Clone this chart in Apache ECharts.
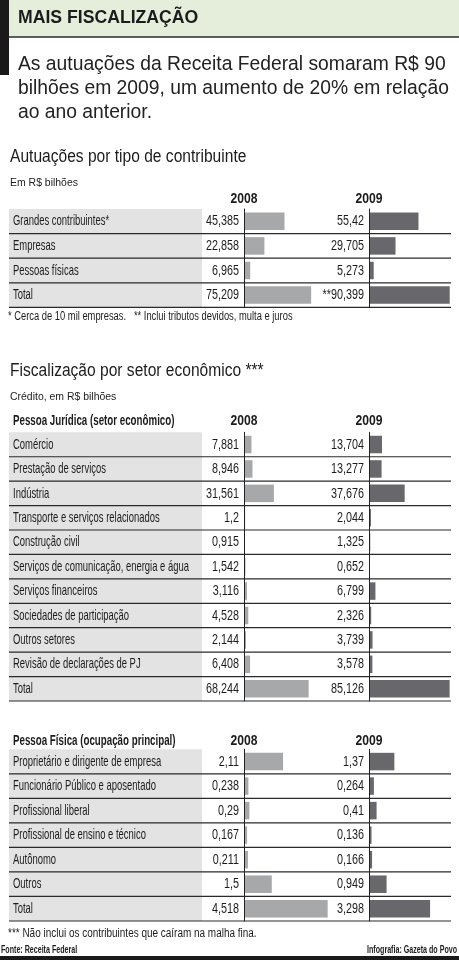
<!DOCTYPE html>
<html><head><meta charset="utf-8">
<script src="https://cdn.jsdelivr.net/npm/echarts@6/dist/echarts.min.js"></script>
<style>html,body{margin:0;padding:0;background:#fff}#c{width:459px;height:960px}</style>
</head><body><div id="c"></div>
<script>
// ---------- DATA ----------
const years = ['2008', '2009'];

const tipoCategories = ['Grandes contribuintes*', 'Empresas', 'Pessoas físicas', 'Total'];
const tipo2008 = [45.385, 22.858, 6.965, 75.209];
const tipo2009 = [55.42, 29.705, 5.273, 90.399];
const tipo2009Prefix = ['', '', '', '**'];

const setorCategories = ['Comércio', 'Prestação de serviços', 'Indústria', 'Transporte e serviços relacionados',
  'Construção civil', 'Serviços de comunicação, energia e água', 'Serviços financeiros',
  'Sociedades de participação', 'Outros setores', 'Revisão de declarações de PJ', 'Total'];
const setor2008 = [7.881, 8.946, 31.561, 1.2, 0.915, 1.542, 3.116, 4.528, 2.144, 6.408, 68.244];
const setor2009 = [13.704, 13.277, 37.676, 2.044, 1.325, 0.652, 6.799, 2.326, 3.739, 3.578, 85.126];

const ocupCategories = ['Proprietário e dirigente de empresa', 'Funcionário Público e aposentado',
  'Profissional liberal', 'Profissional de ensino e técnico', 'Autônomo', 'Outros', 'Total'];
const ocup2008 = [2.11, 0.238, 0.29, 0.167, 0.211, 1.5, 4.518];
const ocup2009 = [1.37, 0.264, 0.41, 0.136, 0.166, 0.949, 3.298];

// ---------- TEXTS ----------
const mainTitle = 'MAIS FISCALIZAÇÃO';
const introLines = ['As autuações da Receita Federal somaram R$ 90',
  'bilhões em 2009, um aumento de 20% em relação', 'ao ano anterior.'];
const tipoTitle = 'Autuações por tipo de contribuinte';
const tipoUnit = 'Em R$ bilhões';
const tipoNote = '* Cerca de 10 mil empresas.   ** Inclui tributos devidos, multa e juros';
const setorTitle = 'Fiscalização por setor econômico ***';
const setorUnit = 'Crédito, em R$ bilhões';
const setorHeader = 'Pessoa Jurídica (setor econômico)';
const ocupHeader = 'Pessoa Física (ocupação principal)';
const ocupNote = '*** Não inclui os contribuintes que caíram na malha fina.';
const sourceText = 'Fonte: Receita Federal';
const creditText = 'Infografia: Gazeta do Povo';

// ---------- LAYOUT / STYLE ----------
const FF = '"Liberation Sans", Arial, sans-serif';
const INK = '#1c1c1c';
const C2008 = '#a7a8aa', C2009 = '#68686c';
const AX1 = 244, AX2 = 369, COLW1 = 125, COLW2 = 81;
const tables = [
  { cats: tipoCategories, a: tipo2008, b: tipo2009, pre: tipo2009Prefix, top: 209, bottom: 307.4, max: 140, headY: 199, head: null },
  { cats: setorCategories, a: setor2008, b: setor2009, pre: null, top: 432.3, bottom: 701, max: 132, headY: 421, head: setorHeader },
  { cats: ocupCategories, a: ocup2008, b: ocup2009, pre: null, top: 749.3, bottom: 921, max: 6.75, headY: 741, head: ocupHeader }
];

const fmt = v => String(v).replace('.', ',');

const grid = [], xAxis = [], yAxis = [], series = [];
tables.forEach((t, ti) => {
  [[AX1, COLW1, t.a, C2008], [AX2, COLW2, t.b, C2009]].forEach(([left, w, vals, col], k) => {
    const gi = ti * 2 + k;
    grid.push({ left: left, width: w, top: t.top, height: t.bottom - t.top });
    // same px-per-unit scale for both year columns of a table
    xAxis.push({ type: 'value', gridIndex: gi, min: 0, max: t.max * w / COLW1, show: false });
    yAxis.push({ type: 'category', gridIndex: gi, data: t.cats, inverse: true, z: 10,
      axisLine: { show: true, lineStyle: { color: '#222', width: 1 } },
      axisTick: { show: false }, axisLabel: { show: false }, splitLine: { show: false } });
    series.push({ type: 'bar', xAxisIndex: gi, yAxisIndex: gi, data: vals, barWidth: 17.5,
      itemStyle: { color: col }, silent: true, animation: false });
  });
});

const chart = echarts.init(document.getElementById('c'), null, { renderer: 'canvas' });
chart.setOption({ animation: false, backgroundColor: '#fff', grid, xAxis, yAxis, series });

function txt(text, x, y, size, opt) {
  opt = opt || {};
  return { type: 'text', x: x, y: y, scaleX: opt.sx || 1, z: 5, silent: true,
    style: { text: text, fontSize: size, fontFamily: FF, fontWeight: opt.bold ? 'bold' : 'normal',
      fill: opt.fill || INK, align: opt.align || 'left', verticalAlign: 'middle' } };
}
function rect(x, y, w, h, fill, z) {
  return { type: 'rect', z: z || 1, silent: true, shape: { x: x, y: y, width: w, height: h }, style: { fill: fill } };
}
function hline(x1, x2, y, w) {
  return { type: 'line', z: 3, silent: true, shape: { x1: x1, y1: y, x2: x2, y2: y }, style: { stroke: '#2a2a2a', lineWidth: w || 1.2 } };
}

const els = [];
// header
els.push(rect(9, 0, 450, 36.5, '#e5eedb'));
els.push(rect(0, 0, 9, 75, '#1a1a1a'));
els.push(hline(9, 459, 37, 1.5));
els.push(txt(mainTitle, 18, 18.5, 18, { bold: true, sx: 0.98 }));
introLines.forEach((l, i) => els.push(txt(l, 18, 65 + i * 24, 19.3, { fill: '#222' })));

// section titles
els.push(txt(tipoTitle, 10, 157, 17.5, { sx: 0.89 }));
els.push(txt(tipoUnit, 10, 183, 11, { sx: 0.95 }));
els.push(txt(tipoNote, 8, 317, 12, { sx: 0.78 }));
els.push(txt(setorTitle, 10, 371, 17.5, { sx: 0.89 }));
els.push(txt(setorUnit, 10, 397, 11, { sx: 0.95 }));
els.push(txt(ocupNote, 8, 934, 12, { sx: 0.83 }));
els.push(txt(sourceText, 1, 950.5, 10, { bold: true, sx: 0.71 }));
els.push(txt(creditText, 457, 950.5, 10, { bold: true, sx: 0.71, align: 'right' }));
els.push(rect(0, 956, 459, 4, '#1a1a1a'));

tables.forEach((t, ti) => {
  const n = t.cats.length, rh = (t.bottom - t.top) / n;
  els.push(rect(9, t.top, 193, t.bottom - t.top, '#e3e3e3', 0));
  for (let i = 1; i <= n; i++) els.push(hline(9, 451, t.top + rh * i, 1.2));
  if (t.head) els.push(txt(t.head, 13, t.headY, 15, { bold: true, sx: 0.65 }));
  years.forEach((yr, k) => els.push(txt(yr, k ? AX2 : AX1, t.headY, 15, { bold: true, sx: 0.81, align: 'center' })));
  t.cats.forEach((c, i) => {
    const pA = chart.convertToPixel({ xAxisIndex: ti * 2, yAxisIndex: ti * 2 }, [0, i]);
    const pB = chart.convertToPixel({ xAxisIndex: ti * 2 + 1, yAxisIndex: ti * 2 + 1 }, [0, i]);
    els.push(txt(c, 13, pA[1], 15, { sx: 0.63 }));
    els.push(txt(fmt(t.a[i]), pA[0] - 5, pA[1], 15, { sx: 0.72, align: 'right' }));
    els.push(txt((t.pre ? t.pre[i] : '') + fmt(t.b[i]), pB[0] - 5, pB[1], 15, { sx: 0.72, align: 'right' }));
  });
});

chart.setOption({ graphic: { elements: els } });
</script>
</body></html>
